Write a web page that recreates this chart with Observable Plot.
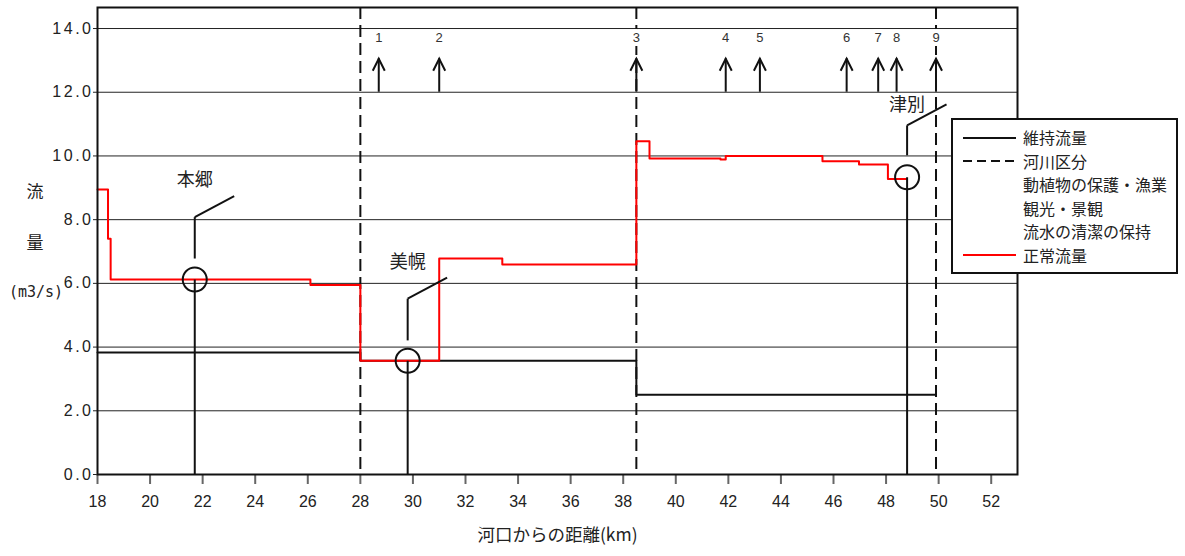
<!DOCTYPE html>
<html>
<head>
<meta charset="utf-8">
<script src="https://cdn.jsdelivr.net/npm/d3@7"></script>
<script src="https://cdn.jsdelivr.net/npm/@observablehq/plot@0.6"></script>
<style>
  body { margin: 0; background: #fff; }
  #wrap { position: relative; width: 1185px; height: 556px; overflow: hidden; background: #fff; }
  #wrap svg { display: block; }
  g[aria-label="y-axis tick label"] text { letter-spacing: 2.5px; }
  .ylab { position: absolute; transform: translate(-50%, -50%); white-space: nowrap; line-height: 1; color: #222; }
  .cjk { font-family: "Noto Sans CJK JP", "Noto Sans", sans-serif; font-size: 17px; }
  .mono { font-family: "DejaVu Sans Mono", monospace; font-size: 15px; }
  #legend { position: absolute; left: 951px; top: 118px; width: 223px; height: 146px; padding-top: 6px;
            border: 2px solid #111; background: #fff; font-family: "Noto Sans CJK JP", sans-serif; font-size: 16px; color: #222; }
  #legend .row { height: 23.5px; line-height: 23.5px; display: flex; align-items: center; white-space: nowrap; }
  #legend .sw { width: 53px; height: 4px; margin-left: 10px; margin-right: 7px; flex: none; }
</style>
</head>
<body>
<div id="wrap"></div>
<script>
// ---- data ----
const xTicks = [18, 20, 22, 24, 26, 28, 30, 32, 34, 36, 38, 40, 42, 44, 46, 48, 50, 52];
const yTicks = [0, 2, 4, 6, 8, 10, 12, 14];
const gridTicks = [2, 4, 6, 8, 10, 12, 14];

// 正常流量 (step, value holds until next x)
const normalX = [18, 18.4, 18.5, 26.1, 28, 31, 33.4, 38.5, 39, 41.7, 41.9, 45.58, 46.97, 48.07, 48.8];
const normalQ = [8.95, 7.4, 6.12, 5.95, 3.57, 6.78, 6.59, 10.46, 9.92, 9.89, 10.0, 9.83, 9.73, 9.28, 9.28];

// 維持流量
const maintX = [18, 28, 38.5, 49.9];
const maintQ = [3.83, 3.57, 2.5, 2.5];

// 河川区分
const sectionX = [28, 38.5, 49.9];

// 基準地点
const stationNames = ["本郷", "美幌", "津別"];
const stationX = [21.7, 29.8, 48.8];
const stationQ = [6.12, 3.57, 9.33];
const leaderStart = [6.78, 4.21, 10.02];
const leaderElbow = [8.08, 5.52, 10.96];
const leaderEndX = [23.2, 31.3, 50.3];
const leaderEndY = [8.74, 6.18, 11.62];
const labelQ = [9.23, 6.66, 11.58];
const flowBase = 0;

// 番号付き矢印
const arrowLabels = ["1", "2", "3", "4", "5", "6", "7", "8", "9"];
const arrowX = [28.7, 31.0, 38.5, 41.9, 43.2, 46.5, 47.7, 48.4, 49.9];
const arrowBase = 12.0;
const arrowTip = 13.05;
const arrowLabelQ = 13.7;

const xTitle = "河口からの距離(km)";
const legendItems = ["維持流量", "河川区分", "動植物の保護・漁業", "観光・景観", "流水の清潔の保持", "正常流量"];

// ---- tables ----
const normal = normalX.map((x, i) => ({x, q: normalQ[i]}));
const maint = maintX.map((x, i) => ({x, q: maintQ[i]}));
const stations = stationNames.map((name, i) => ({
  name, x: stationX[i], q: stationQ[i], s: leaderStart[i], e: leaderElbow[i],
  ex: leaderEndX[i], ey: leaderEndY[i], ly: labelQ[i]
}));
const arrows = arrowLabels.map((label, i) => ({label, x: arrowX[i]}));

const chevron = {
  draw(context) {
    context.moveTo(-6, 12);
    context.lineTo(0, 0);
    context.lineTo(6, 12);
  }
};

const cjk = "'Noto Sans CJK JP', 'Noto Sans', sans-serif";

const chart = Plot.plot({
  width: 1185,
  height: 556,
  marginLeft: 97,
  marginRight: 168,
  marginTop: 7,
  marginBottom: 82,
  x: {domain: [18, 53]},
  y: {domain: [0, 14.66]},
  style: {fontFamily: "'Liberation Sans', Arial, sans-serif", fontSize: "16px", color: "#222", background: "#fff"},
  marks: [
    Plot.gridY({ticks: gridTicks, stroke: "#222", strokeOpacity: 1, strokeWidth: 1}),
    Plot.axisY({ticks: yTicks, tickFormat: d3.format(".1f"), tickSize: 4, tickPadding: 0, label: null, fontSize: 16, stroke: "#222"}),
    Plot.axisX({ticks: xTicks, tickSize: 10, tickPadding: 11, label: null, fontSize: 16, stroke: "#666", strokeWidth: 2}),
    Plot.ruleX(sectionX, {stroke: "#111", strokeWidth: 2, strokeDasharray: "12,6"}),
    Plot.line(maint, {x: "x", y: "q", curve: "step-after", stroke: "#111", strokeWidth: 2}),
    Plot.line(normal, {x: "x", y: "q", curve: "step-after", stroke: "#ff0000", strokeWidth: 2}),
    // station leaders
    Plot.link(stations, {x1: "x", y1: () => flowBase, x2: "x", y2: "q", stroke: "#111", strokeWidth: 2}),
    Plot.link(stations, {x1: "x", y1: "s", x2: "x", y2: "e", stroke: "#111", strokeWidth: 2}),
    Plot.link(stations, {x1: "x", y1: "e", x2: "ex", y2: "ey", stroke: "#111", strokeWidth: 2}),
    Plot.dot(stations, {x: "x", y: "q", r: 12, stroke: "#111", strokeWidth: 2, fill: "none"}),
    Plot.text(stations, {x: "x", y: "ly", text: "name", fontFamily: cjk, fontSize: 18, fill: "#222"}),
    // numbered arrows
    Plot.ruleX(arrows, {x: "x", y1: () => arrowBase, y2: () => arrowTip, stroke: "#111", strokeWidth: 2}),
    Plot.dot(arrows, {x: "x", y: () => arrowTip, symbol: chevron, r: 6, stroke: "#111", strokeWidth: 2, fill: "none"}),
    Plot.text(arrows, {x: "x", y: () => arrowLabelQ, text: "label", fontSize: 13, fill: "#333", stroke: "white", strokeWidth: 8}),
    Plot.frame({stroke: "#111", strokeWidth: 2}),
    Plot.text([xTitle], {frameAnchor: "bottom", dy: 66, fontFamily: cjk, fontSize: 17.5, fill: "#222"})
  ]
});

const wrap = document.getElementById("wrap");
wrap.appendChild(chart);

// y-axis title pieces
const yTitle = [
  {t: "流", cls: "cjk", x: 35, y: 190},
  {t: "量", cls: "cjk", x: 35, y: 241},
  {t: "(m3/s)", cls: "mono", x: 36, y: 292}
];
for (const p of yTitle) {
  const d = document.createElement("div");
  d.className = "ylab " + p.cls;
  d.style.left = p.x + "px";
  d.style.top = p.y + "px";
  d.textContent = p.t;
  wrap.appendChild(d);
}

// legend
const legend = document.createElement("div");
legend.id = "legend";
const swatches = [
  `<line x1="0" y1="2" x2="53" y2="2" stroke="#111" stroke-width="2"/>`,
  `<line x1="0" y1="2" x2="53" y2="2" stroke="#111" stroke-width="2" stroke-dasharray="9,5"/>`,
  "", "", "",
  `<line x1="0" y1="2" x2="53" y2="2" stroke="#ff0000" stroke-width="2"/>`
];
legendItems.forEach((label, i) => {
  const row = document.createElement("div");
  row.className = "row";
  row.innerHTML = `<svg class="sw" viewBox="0 0 53 4">${swatches[i]}</svg><span>${label}</span>`;
  legend.appendChild(row);
});
wrap.appendChild(legend);
</script>
</body>
</html>
